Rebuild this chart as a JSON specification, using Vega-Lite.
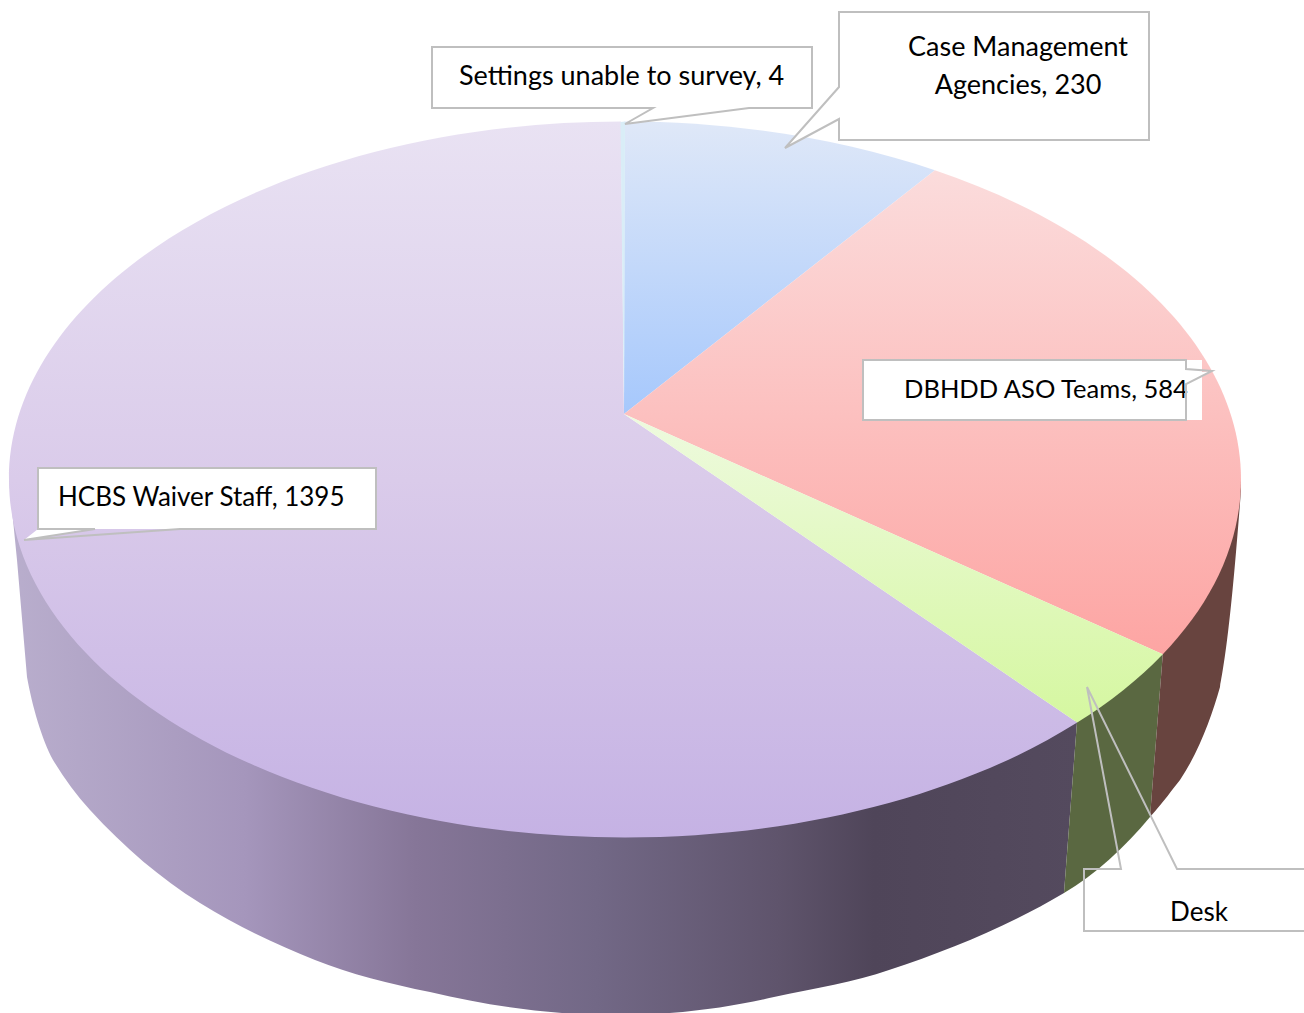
{
"$schema":"https://vega.github.io/schema/vega-lite/v6.json",
"width":1304,"height":1013,"padding":0,"autosize":{"type":"none"},"background":"white",
"config":{"view":{"stroke":null}},
"data":{"values":[
{"category":"Settings unable to survey","value":4,"label":"Settings unable to survey, 4"},
{"category":"Case Management Agencies","value":230,"label":"Case Management\nAgencies, 230"},
{"category":"DBHDD ASO Teams","value":584,"label":"DBHDD ASO Teams, 584"},
{"category":"Desk","value":90,"label":"Desk"},
{"category":"HCBS Waiver Staff","value":1395,"label":"HCBS Waiver Staff, 1395"}
]},
"encoding":{
"x":{"datum":0,"type":"quantitative","scale":{"domain":[0,1304],"range":[0,1304],"nice":false,"zero":false},"axis":null},
"y":{"datum":0,"type":"quantitative","scale":{"domain":[0,1013],"range":[0,1013],"nice":false,"zero":false},"axis":null},
"tooltip":{"field":"value","type":"quantitative"}
},
"layer":[
{"transform":[{"filter":"datum.category==='HCBS Waiver Staff'"}],"mark":{"type":"point","size":4,"filled":true,"opacity":1,"shape":"M9,479.5 L17,560 L27,677 C32,705 42,740 53,760 C64,778 76,795 90,810 C125,848 160,878 200,903 C240,928 280,946 315,960 C350,974 390,984 430,992 C490,1006 550,1015 615,1015 C680,1015 730,1007 774,997 C815,988 855,982 889,970 C950,950 1010,925 1064,893 L1077,722 L625,600 Z","fill":{"gradient":"linear","x1":0,"y1":0,"x2":1,"y2":0,"stops":[{"offset":0,"color":"#b9aecd"},{"offset":0.22,"color":"#a596bc"},{"offset":0.38,"color":"#867698"},{"offset":0.55,"color":"#726886"},{"offset":0.72,"color":"#5f546c"},{"offset":0.81,"color":"#4f4559"},{"offset":1,"color":"#544a5e"}]}}},
{"transform":[{"filter":"datum.category==='Desk'"}],"mark":{"type":"point","size":4,"filled":true,"opacity":1,"shape":"M1077,722 L1064,893 C1095,875 1125,847 1150,817 L1162.8,654 Z","fill":"#5a6841"}},
{"transform":[{"filter":"datum.category==='DBHDD ASO Teams'"}],"mark":{"type":"point","size":4,"filled":true,"opacity":1,"shape":"M1162.8,654 L1150,817 C1165,800 1172,790 1180,780 C1200,750 1212,715 1220,687 C1226,655 1232,610 1241,490 L1241,479 Z","fill":"#68443f"}},
{"transform":[{"filter":"datum.category==='HCBS Waiver Staff'"}],"mark":{"type":"point","size":4,"filled":true,"opacity":1,"shape":"M624,414 L1077.2,722.6 C960.7,795.8 796.6,837.5 625,837.5 C284.8,837.5 9,677.2 9,479.5 C9,281.8 284.8,121.5 621,121.5 Z","fill":{"gradient":"linear","x1":0,"y1":0,"x2":0,"y2":1,"stops":[{"offset":0,"color":"#e9e2f3"},{"offset":0.5,"color":"#dacbea"},{"offset":1,"color":"#c5b2e4"}]}}},
{"transform":[{"filter":"datum.category==='Case Management Agencies'"}],"mark":{"type":"point","size":4,"filled":true,"opacity":1,"shape":"M624,414 L624.5,121.5 C733.9,121.5 840.8,138.4 934.9,170.2 Z","fill":{"gradient":"linear","x1":0,"y1":0,"x2":0,"y2":1,"stops":[{"offset":0,"color":"#dfe8f8"},{"offset":1,"color":"#a6c8fc"}]}}},
{"transform":[{"filter":"datum.category==='DBHDD ASO Teams'"}],"mark":{"type":"point","size":4,"filled":true,"opacity":1,"shape":"M624,414 L934.9,170.2 C1124.4,234.3 1241,352.1 1241,479.5 C1241,540.6 1214.1,600.8 1162.8,654.2 Z","fill":{"gradient":"linear","x1":0,"y1":0,"x2":0,"y2":1,"stops":[{"offset":0,"color":"#fbdcdc"},{"offset":1,"color":"#fda5a3"}]}}},
{"transform":[{"filter":"datum.category==='Desk'"}],"mark":{"type":"point","size":4,"filled":true,"opacity":1,"shape":"M624,414 L1162.8,654.2 C1139,679 1110.3,701.8 1077.2,722.6 Z","fill":{"gradient":"linear","x1":0,"y1":0,"x2":0,"y2":1,"stops":[{"offset":0,"color":"#eefadf"},{"offset":1,"color":"#d5f7a0"}]}}},
{"transform":[{"filter":"datum.category==='Settings unable to survey'"}],"mark":{"type":"point","size":4,"filled":true,"opacity":1,"shape":"M624,414 L620.5,122 L625,121.5 Z","fill":"#d9edf7"}},

{"transform":[{"filter":"datum.category==='HCBS Waiver Staff'"}],"mark":{"type":"point","size":4,"filled":true,"opacity":1,"shape":"M38,468 L376,468 L376,529 L95,529 L24,540 L38,529 Z","fill":"white"}},
{"transform":[{"filter":"datum.category==='DBHDD ASO Teams'"}],"mark":{"type":"point","size":4,"filled":true,"opacity":1,"shape":"M863,360 L1202,360 L1202,372 L1212,371 L1202,377 L1202,420 L863,420 Z","fill":"white"}},
{"transform":[{"filter":"datum.category==='Settings unable to survey'"}],"mark":{"type":"point","size":4,"filled":true,"opacity":1,"shape":"M432,47 L812,47 L812,108 L749,108 L625,124 L653,108 L432,108 Z","fill":"white"}},
{"transform":[{"filter":"datum.category==='Case Management Agencies'"}],"mark":{"type":"point","size":4,"filled":true,"opacity":1,"shape":"M839,12 L1149,12 L1149,140 L839,140 L839,119 L785,148 L839,87 Z","fill":"white"}},
{"transform":[{"filter":"datum.category==='Desk'"}],"mark":{"type":"point","size":4,"filled":true,"opacity":1,"shape":"M1121,869 L1177,869 L1310,869 L1310,931 L1084,931 L1084,892 L1121,869 Z","fill":"white"}},

{"transform":[{"filter":"datum.category==='Settings unable to survey'"}],"mark":{"type":"text","font":"Lato","fontSize":27,"align":"left","baseline":"middle","color":"#000"},"encoding":{"x":{"datum":459,"type":"quantitative"},"y":{"datum":77,"type":"quantitative"},"text":{"field":"label"}}},
{"transform":[{"filter":"datum.category==='Case Management Agencies'"}],"mark":{"type":"text","font":"Lato","fontSize":27,"align":"center","baseline":"middle","lineBreak":"\n","lineHeight":38,"color":"#000"},"encoding":{"x":{"datum":1018,"type":"quantitative"},"y":{"datum":48,"type":"quantitative"},"text":{"field":"label"}}},
{"transform":[{"filter":"datum.category==='DBHDD ASO Teams'"}],"mark":{"type":"text","font":"Lato","fontSize":25.5,"align":"left","baseline":"middle","color":"#000"},"encoding":{"x":{"datum":904,"type":"quantitative"},"y":{"datum":390,"type":"quantitative"},"text":{"field":"label"}}},
{"transform":[{"filter":"datum.category==='HCBS Waiver Staff'"}],"mark":{"type":"text","font":"Lato","fontSize":26,"align":"left","baseline":"middle","color":"#000"},"encoding":{"x":{"datum":58,"type":"quantitative"},"y":{"datum":498,"type":"quantitative"},"text":{"field":"label"}}},
{"transform":[{"filter":"datum.category==='Desk'"}],"mark":{"type":"text","font":"Lato","fontSize":26,"align":"center","baseline":"middle","color":"#000"},"encoding":{"x":{"datum":1199,"type":"quantitative"},"y":{"datum":913,"type":"quantitative"},"text":{"field":"label"}}},

{"transform":[{"filter":"datum.category==='HCBS Waiver Staff'"}],"mark":{"type":"point","size":4,"filled":false,"opacity":1,"stroke":"#bfbfbf","strokeWidth":2,"shape":"M38,468 L376,468 L376,529 L180,529 L24,540 L95,529 L38,529 Z"}},
{"transform":[{"filter":"datum.category==='DBHDD ASO Teams'"}],"mark":{"type":"point","size":4,"filled":false,"opacity":1,"stroke":"#bfbfbf","strokeWidth":2,"shape":"M863,360 L1186,360 L1186,369 L1212,371 L1186,384 L1186,420 L863,420 Z"}},
{"transform":[{"filter":"datum.category==='Settings unable to survey'"}],"mark":{"type":"point","size":4,"filled":false,"opacity":1,"stroke":"#bfbfbf","strokeWidth":2,"shape":"M432,47 L812,47 L812,108 L749,108 L625,124 L653,108 L432,108 Z"}},
{"transform":[{"filter":"datum.category==='Case Management Agencies'"}],"mark":{"type":"point","size":4,"filled":false,"opacity":1,"stroke":"#bfbfbf","strokeWidth":2,"shape":"M839,12 L1149,12 L1149,140 L839,140 L839,119 L785,148 L839,87 Z"}},
{"transform":[{"filter":"datum.category==='Desk'"}],"mark":{"type":"point","size":4,"filled":false,"opacity":1,"stroke":"#bfbfbf","strokeWidth":2,"shape":"M1084,869 L1121,869 L1087,687 L1177,869 L1310,869 L1310,931 L1084,931 Z"}}
]
}
